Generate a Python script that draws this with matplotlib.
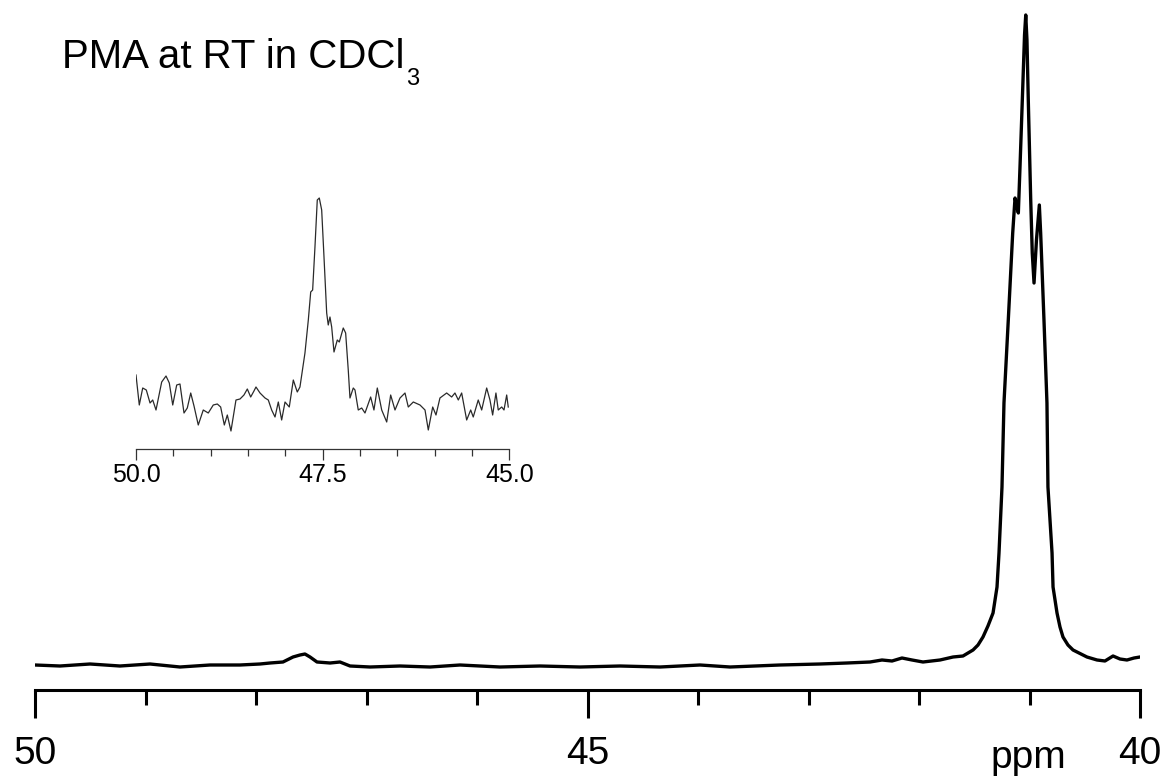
import matplotlib
matplotlib.use("Agg")
import matplotlib.pyplot as plt
from matplotlib.ticker import MultipleLocator, FormatStrFormatter

plt.rcParams["font.family"] = ["Liberation Sans", "DejaVu Sans"]

# 13C spectrum, full window (ppm, intensity a.u.)
main_ppm = [
    50.000, 49.774, 49.502, 49.231, 48.959, 48.688, 48.416, 48.145, 47.964, 47.873,
    47.756, 47.665, 47.602, 47.557, 47.511, 47.448, 47.330, 47.240, 47.149, 46.968,
    46.697, 46.425, 46.154, 45.792, 45.430, 45.068, 44.706, 44.344, 43.982, 43.710,
    43.258, 42.896, 42.652, 42.443, 42.335, 42.244, 42.154, 42.063, 41.964, 41.810,
    41.692, 41.602, 41.511, 41.466, 41.421, 41.376, 41.330, 41.294, 41.276, 41.249,
    41.231, 41.192, 41.152, 41.131, 41.118, 41.101, 41.086, 41.065, 41.045, 41.034,
    41.023, 41.011, 40.989, 40.975, 40.959, 40.937, 40.911, 40.899, 40.869, 40.842,
    40.833, 40.796, 40.787, 40.751, 40.724, 40.697, 40.652, 40.606, 40.480, 40.389,
    40.317, 40.244, 40.181, 40.118, 40.054, 40.000,
]
main_int = [
    1, 0, 2, 0, 2, -1, 1, 1, 2, 3,
    4, 9, 11, 12, 9, 4, 3, 4, 0, -1,
    0, -1, 1, -1, 0, -1, 0, -1, 1, -1,
    1, 2, 3, 4, 6, 5, 8, 6, 4, 6,
    9, 10, 16, 21, 29, 40, 53, 79, 113, 179,
    263, 346, 433, 468, 462, 453, 499, 566, 631, 651,
    626, 566, 466, 413, 383, 426, 461, 433, 346, 263,
    179, 113, 79, 53, 39, 29, 21, 16, 9, 6,
    5, 10, 7, 6, 8, 9,
]

# expanded region around the 47.5 ppm signal
inset_ppm = [
    50.000, 49.956, 49.910, 49.862, 49.812, 49.776, 49.732, 49.656, 49.598, 49.554,
    49.508, 49.455, 49.411, 49.357, 49.313, 49.267, 49.223, 49.166, 49.099, 49.032,
    48.965, 48.911, 48.866, 48.817, 48.777, 48.728, 48.661, 48.607, 48.554, 48.509,
    48.464, 48.420, 48.393, 48.339, 48.272, 48.228, 48.183, 48.138, 48.094, 48.049,
    48.004, 47.947, 47.893, 47.840, 47.804, 47.737, 47.692, 47.660, 47.634, 47.603,
    47.572, 47.545, 47.513, 47.482, 47.446, 47.425, 47.402, 47.379, 47.348, 47.304,
    47.277, 47.224, 47.192, 47.157, 47.134, 47.090, 47.067, 47.023, 46.977, 46.933,
    46.857, 46.813, 46.768, 46.709, 46.642, 46.589, 46.531, 46.464, 46.397, 46.353,
    46.286, 46.196, 46.129, 46.085, 46.026, 45.982, 45.929, 45.839, 45.772, 45.728,
    45.683, 45.638, 45.571, 45.517, 45.483, 45.416, 45.370, 45.303, 45.259, 45.223,
    45.179, 45.148, 45.102, 45.071, 45.035, 45.014,
]
inset_int = [
    25, -5, 12, 10, -3, 0, -10, 18, 24, 17,
    -5, 15, 16, -13, -8, 7, -6, -25, -10, -13,
    -5, -4, -7, -25, -15, -31, 0, 1, 5, 11,
    3, 9, 13, 7, 2, 0, -10, -17, -2, -20,
    -2, -7, 20, 8, 13, 47, 80, 108, 110, 153,
    200, 202, 190, 143, 87, 75, 83, 73, 48, 60,
    58, 72, 67, 30, 2, 12, 10, -10, -8, -13,
    3, -10, 12, -10, -22, 5, -10, 2, 7, -7,
    -2, -5, -10, -30, -7, -15, 2, 7, 3, 7,
    0, 7, -20, -10, -17, 0, -10, 12, 0, -15,
    7, -10, -7, -10, 5, -7,
]

W, H = 1169, 784
fig = plt.figure(figsize=(W / 100, H / 100), dpi=100)


def strip_axes(ax):
    for s in ("top", "left", "right"):
        ax.spines[s].set_visible(False)
    ax.set_yticks([])
    ax.patch.set_alpha(0)


# ---- main spectrum ----
ax = fig.add_axes([35 / W, (H - 690) / H, 1105 / W, 690 / H])
ax.plot(main_ppm, main_int, color="black", lw=2.4, solid_joinstyle="round")
ax.set_xlim(50, 40)
ax.set_ylim(-24, 666)
strip_axes(ax)
ax.spines["bottom"].set_linewidth(2.2)
ax.xaxis.set_major_locator(MultipleLocator(5))
ax.xaxis.set_minor_locator(MultipleLocator(1))
ax.xaxis.set_major_formatter(FormatStrFormatter("%d"))
ax.tick_params(axis="x", which="major", length=20, width=2.2, pad=13, labelsize=28)
ax.tick_params(axis="x", which="minor", length=11, width=2.2)

fig.text(1028 / W, 1 - 768 / H, "ppm", ha="center", va="baseline", fontsize=28)

title = fig.text(62 / W, 1 - 68 / H, "PMA at RT in CDCl", ha="left", va="baseline",
                 fontsize=29)
fig.canvas.draw()
ax.annotate("3", xy=(1, 0), xycoords=title, xytext=(2, -9), textcoords="offset pixels",
            ha="left", va="baseline", fontsize=17)

# ---- inset: expanded 50-45 ppm ----
axi = fig.add_axes([136 / W, (H - 449.3) / H, 373.3 / W, 269.3 / H])
axi.plot(inset_ppm, inset_int, color="#2a2a2a", lw=0.9)
axi.set_xlim(50, 45)
axi.set_ylim(-49.3, 220)
strip_axes(axi)
axi.spines["bottom"].set_linewidth(0.9)
axi.spines["bottom"].set_color("#333333")
axi.xaxis.set_major_locator(MultipleLocator(2.5))
axi.xaxis.set_minor_locator(MultipleLocator(0.5))
axi.xaxis.set_major_formatter(FormatStrFormatter("%.1f"))
axi.tick_params(axis="x", which="major", length=8, width=0.9, color="#333333",
                pad=2, labelsize=18)
axi.tick_params(axis="x", which="minor", length=5, width=0.9, color="#333333")

fig.savefig("out.png", dpi=100)
